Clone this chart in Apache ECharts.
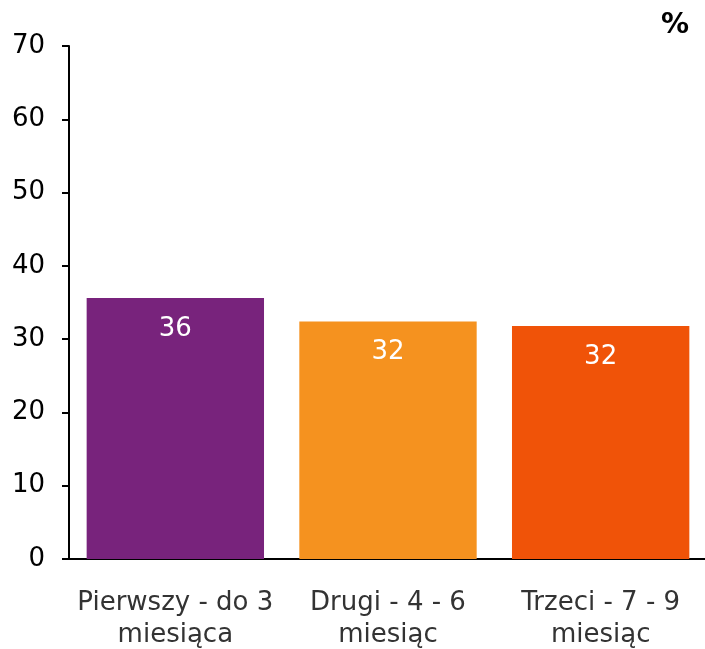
<!DOCTYPE html>
<html><head><meta charset="utf-8">
<script src="https://cdn.jsdelivr.net/npm/echarts@6/dist/echarts.min.js"></script>
<style>html,body{margin:0;padding:0;background:#fff}#c{width:705px;height:649px}</style>
</head><body><div id="c"></div>
<script>
const categories = ['Pierwszy - do 3\nmiesiąca', 'Drugi - 4 - 6\nmiesiąc', 'Trzeci - 7 - 9\nmiesiąc'];
const values = [35.6, 32.4, 31.8];
const colors = ['#78237C', '#F5921F', '#F05308'];
const yTicks = [0, 10, 20, 30, 40, 50, 60, 70];
const unitLabel = '%';

const font = 'Verdana, "DejaVu Sans", sans-serif';
const chart = echarts.init(document.getElementById('c'), null, {renderer: 'canvas'});
chart.setOption({
  animation: false,
  graphic: [{type: 'text', x: 689, y: 12, style: {text: unitLabel, font: 'bold 28px ' + font, fill: '#000', align: 'right', verticalAlign: 'top'}}],
  grid: {left: 69, top: 46, width: 638, height: 513, containLabel: false, outerBoundsMode: 'none'},
  xAxis: {
    type: 'category', data: categories,
    axisLine: {lineStyle: {color: '#000', width: 2}},
    axisTick: {show: false},
    axisLabel: {color: '#333', fontSize: 26, fontFamily: font, lineHeight: 32, margin: 28, interval: 0}
  },
  yAxis: {
    type: 'value', min: yTicks[0], max: yTicks[yTicks.length - 1], interval: 10,
    splitLine: {show: false},
    axisLine: {show: true, lineStyle: {color: '#000', width: 2}},
    axisTick: {show: true, length: 7, lineStyle: {color: '#000', width: 2}},
    axisLabel: {color: '#000', fontSize: 26, fontFamily: font, margin: 24}
  },
  series: [{
    type: 'bar', barCategoryGap: '16.6%',
    data: values.map((v, i) => ({value: v, itemStyle: {color: colors[i]}})),
    label: {show: true, position: 'insideTop', distance: 18, color: '#fff', fontSize: 26, fontFamily: font,
      formatter: p => Math.round(p.value)}
  }]
});
</script></body></html>
